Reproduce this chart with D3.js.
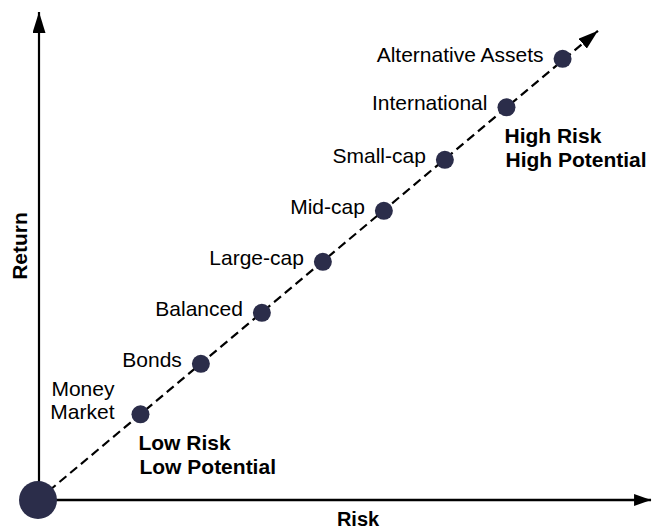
<!DOCTYPE html>
<html>
<head>
<meta charset="utf-8">
<script src="https://cdn.jsdelivr.net/npm/d3@7"></script>
<style>
    body { margin: 0; background: #fff; }
    text { font-family: "Liberation Sans", Arial, sans-serif; fill: #000; }
</style>
</head>
<body>
<script>
    var categories = ["Money Market", "Bonds", "Balanced", "Large-cap", "Mid-cap", "Small-cap", "International", "Alternative Assets"];
    var riskValues = [1.68, 2.67, 3.67, 4.67, 5.67, 6.67, 7.68, 8.6];
    var returnValues = [1.68, 2.67, 3.67, 4.67, 5.67, 6.67, 7.7, 8.65];
    // trend arrow goes from the origin to here
    var trendRisk = [0, 9.18];
    var trendReturn = [0, 9.2];
    var axisMax = { risk: 10.05, ret: 9.57 };

    var width = 652, height = 531;
    var x = d3.scaleLinear().domain([0, 10]).range([38, 648]);
    var y = d3.scaleLinear().domain([0, 10]).range([500, -10]);

    var svg = d3.select("body").append("svg").attr("width", width).attr("height", height);

    var defs = svg.append("defs");
    function arrow(id, len, half) {
        defs.append("marker")
            .attr("id", id)
            .attr("markerUnits", "userSpaceOnUse")
            .attr("viewBox", (-len) + " " + (-half) + " " + len + " " + (half * 2))
            .attr("refX", 0).attr("refY", 0)
            .attr("markerWidth", len).attr("markerHeight", half * 2)
            .attr("orient", "auto")
            .append("path")
            .attr("d", "M" + (-len) + "," + (-half) + "L0,0L" + (-len) + "," + half + "Z")
            .attr("fill", "#000");
    }
    arrow("arrX", 17, 6);
    arrow("arrY", 21, 6.5);
    arrow("arrT", 20, 6.5);

    // axes
    svg.append("line")
        .attr("x1", x(0)).attr("y1", y(0))
        .attr("x2", x(axisMax.risk)).attr("y2", y(0))
        .attr("stroke", "#000").attr("stroke-width", 2.6)
        .attr("marker-end", "url(#arrX)");
    svg.append("line")
        .attr("x1", x(0) + 1).attr("y1", y(0))
        .attr("x2", x(0) + 1).attr("y2", y(axisMax.ret))
        .attr("stroke", "#000").attr("stroke-width", 2.2)
        .attr("marker-end", "url(#arrY)");

    // dashed trend
    svg.append("line")
        .attr("x1", x(trendRisk[0])).attr("y1", y(trendReturn[0]))
        .attr("x2", x(trendRisk[1])).attr("y2", y(trendReturn[1]))
        .attr("stroke", "#000").attr("stroke-width", 2.2)
        .attr("stroke-dasharray", "9,5")
        .attr("marker-end", "url(#arrT)");

    // origin dot
    svg.append("circle")
        .attr("cx", x(0)).attr("cy", y(0)).attr("r", 19)
        .attr("fill", "#2b2d4a");

    var pts = categories.map(function (c, i) {
        return { name: c, risk: riskValues[i], ret: returnValues[i] };
    });

    svg.selectAll(".dot").data(pts).enter().append("circle")
        .attr("class", "dot")
        .attr("cx", function (d) { return x(d.risk); })
        .attr("cy", function (d) { return y(d.ret); })
        .attr("r", 9)
        .attr("fill", "#2b2d4a");

    svg.selectAll(".lbl").data(pts).enter().append("text")
        .attr("class", "lbl")
        .attr("text-anchor", "end")
        .attr("font-size", 21)
        .each(function (d) {
            var t = d3.select(this);
            var px = x(d.risk), py = y(d.ret);
            if (d.name == "Money Market") {
                t.append("tspan").attr("x", px - 26).attr("y", py - 18).text("Money");
                t.append("tspan").attr("x", px - 26).attr("y", py + 5).text("Market");
            } else {
                t.attr("x", px - 19).attr("y", py + 3).text(d.name);
            }
        });

    // risk notes, hung off first and International point
    function note(i, l1, l2) {
        var t = svg.append("text")
            .attr("font-size", 21).attr("font-weight", "bold");
        var px = x(riskValues[i]) - 2, py = y(returnValues[i]) + 36;
        t.append("tspan").attr("x", px).attr("y", py).text(l1);
        t.append("tspan").attr("x", px + 1).attr("y", py + 24).text(l2);
    }
    note(0, "Low Risk", "Low Potential");
    note(6, "High Risk", "High Potential");

    // axis titles
    svg.append("text")
        .attr("x", 358).attr("y", 526)
        .attr("text-anchor", "middle")
        .attr("font-size", 20).attr("font-weight", "bold")
        .text("Risk");
    svg.append("text")
        .attr("transform", "translate(27,246) rotate(-90)")
        .attr("text-anchor", "middle")
        .attr("font-size", 21).attr("font-weight", "bold")
        .text("Return");
</script>
</body>
</html>
